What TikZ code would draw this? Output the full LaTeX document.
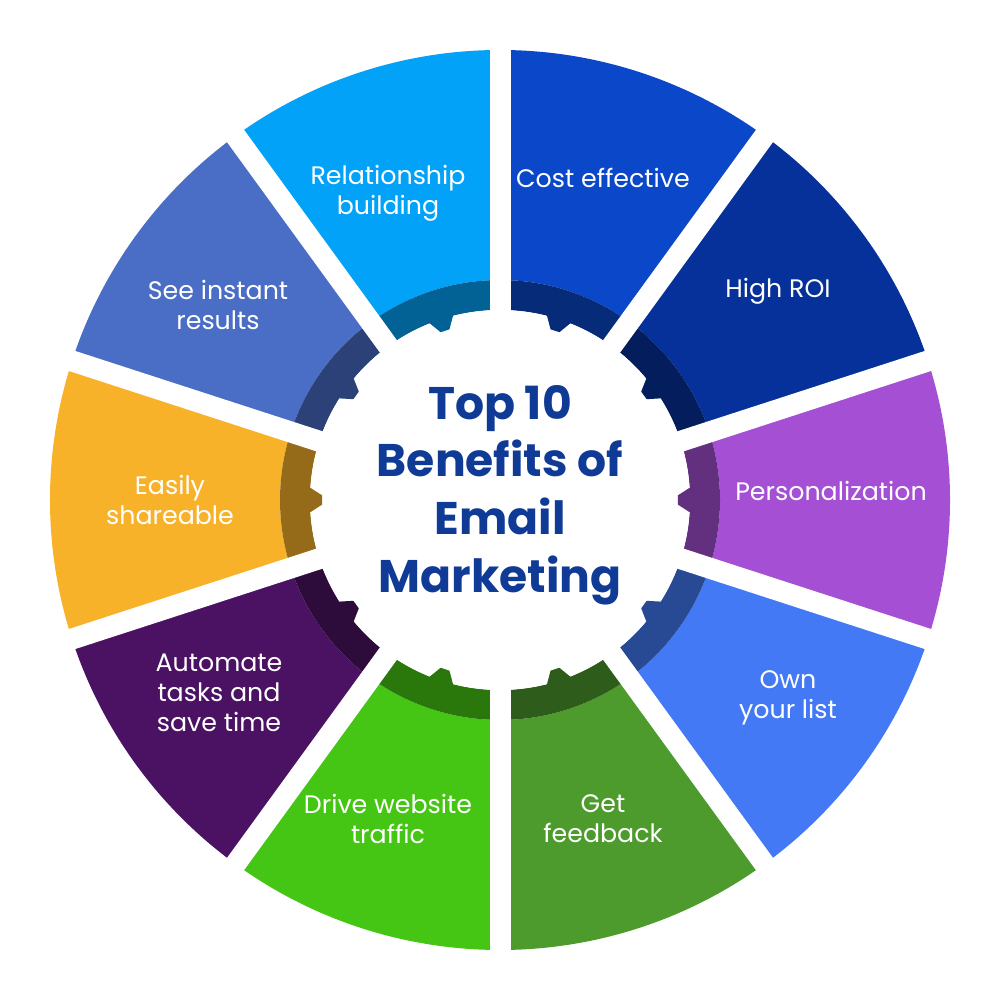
\documentclass[tikz,border=0pt]{standalone}
\usepackage{fontspec}
\setmainfont{Poppins}
\definecolor{c1}{HTML}{0A47C9}
\definecolor{c2}{HTML}{06309A}
\definecolor{c3}{HTML}{A54FD4}
\definecolor{c4}{HTML}{4379F5}
\definecolor{c5}{HTML}{4C9B2C}
\definecolor{c6}{HTML}{46C614}
\definecolor{c7}{HTML}{4B1263}
\definecolor{c8}{HTML}{F8B22A}
\definecolor{c9}{HTML}{4A6DC6}
\definecolor{c10}{HTML}{03A2F9}
\definecolor{titleblue}{HTML}{0F3A96}
\tikzset{lbl/.style={text=white,font=\fontsize{7.2}{8.6}\selectfont,align=center,inner sep=0pt}}
\begin{document}
\begin{tikzpicture}
\useasboundingbox (-5,-5) rectangle (5,5);
\fill[white] (-5,-5) rectangle (5,5);
\foreach \i in {1,...,10}{
  \pgfmathsetmacro{\a}{90-36*(\i-1)}
  \pgfmathsetmacro{\b}{\a-36}
  \fill[c\i] (\a:4.5) arc[start angle=\a,end angle=\b,radius=4.5] -- (\b:2.2) arc[start angle=\b,end angle=\a,radius=2.2] -- cycle;
  \fill[c\i!60!black] (\a:2.2) arc[start angle=\a,end angle=\b,radius=2.2] -- (\b:1.9) arc[start angle=\b,end angle=\a,radius=1.9] -- cycle;
}
\fill[white] (0,0) circle (1.9);
\foreach \i in {1,...,10}{
  \pgfmathsetmacro{\m}{72-36*(\i-1)}
  \fill[c\i!60!black] (\m-4:1.92) -- (\m-1.5:1.78) -- (\m+1.5:1.78) -- (\m+4:1.92) -- cycle;
}
\foreach \i in {1,...,10}{
  \pgfmathsetmacro{\a}{90-36*(\i-1)}
  \draw[white,line width=0.21cm] (\a:1.7) -- (\a:4.7);
}
\node[lbl] (n1) at (1.03,3.22) {Cost effective};
\node[lbl] (n2) at (2.78,2.09) {High ROI};
\node[lbl] (n3) at (3.31,0.09) {Personalization};
\node[lbl] (n4) at (2.88,-1.98) {Own\\your list};
\node[lbl] (n5) at (1.03,-3.19) {Get\\feedback};
\node[lbl] (n6) at (-1.12,-3.19) {Drive website\\traffic};
\node[lbl] (n7) at (-2.81,-1.93) {Automate\\tasks and\\save time};
\node[lbl] (n8) at (-3.3,0) {Easily\\shareable};
\node[lbl] (n9) at (-2.82,1.95) {See instant\\results};
\node[lbl] (n10) at (-1.12,3.07) {Relationship\\building};
\node[text=titleblue,font=\bfseries\fontsize{13}{16.4}\selectfont,align=center,inner sep=0pt] (t) at (0,0.05) {Top 10\\Benefits of\\Email\\Marketing};
\end{tikzpicture}
\end{document}
